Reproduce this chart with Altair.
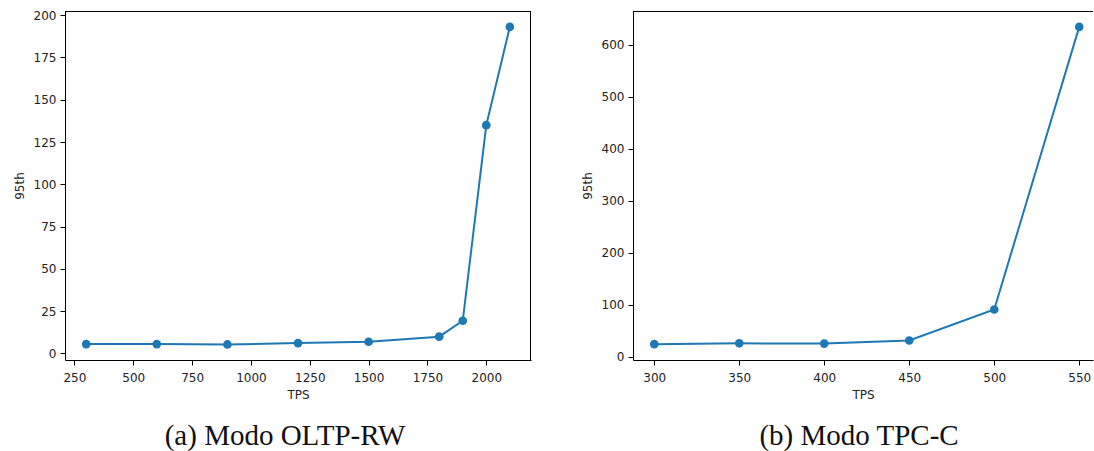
import altair as alt
import pandas as pd

# OLTP-RW workload: throughput (TPS) vs 95th percentile latency
oltp_tps = [300, 600, 900, 1200, 1500, 1800, 1900, 2000, 2100]
oltp_p95 = [5.5, 5.5, 5.3, 6.1, 6.9, 9.9, 19.3, 135.0, 193.1]

# TPC-C workload
tpcc_tps = [300, 350, 400, 450, 500, 550]
tpcc_p95 = [24.4, 26.0, 25.5, 31.4, 91.0, 634.6]

BLUE = "#1f77b4"
TICK_FONT = "DejaVu Sans"
H = 349


def panel(tps, p95, x_dom, y_dom, x_ticks, y_ticks, caption, width, dx, right_spine):
    df = pd.DataFrame({"TPS": tps, "95th": p95})
    x = alt.X(
        "TPS:Q",
        scale=alt.Scale(domain=x_dom, nice=False, zero=False),
        axis=alt.Axis(values=x_ticks, title="TPS", format="d", grid=False),
    )
    y = alt.Y(
        "95th:Q",
        scale=alt.Scale(domain=y_dom, nice=False, zero=False),
        axis=alt.Axis(values=y_ticks, title="95th", format="d", grid=False,
                      labelPadding=4, titlePadding=7),
    )
    base = alt.Chart(df).encode(x=x, y=y)
    line = base.mark_line(color=BLUE, strokeWidth=2)
    pts = base.mark_circle(color=BLUE, size=75, opacity=1)
    # top spine (and right spine where the panel is not cut by the page edge)
    top = alt.Chart(df).mark_rule(color="#000000", strokeWidth=1).encode(
        x=alt.value(0), x2=alt.value(width), y=alt.value(0.5)
    )
    layers = [line, pts, top]
    if right_spine:
        layers.append(
            alt.Chart(df).mark_rule(color="#000000", strokeWidth=1).encode(
                x=alt.value(width - 0.5), y=alt.value(0), y2=alt.value(H)
            )
        )
    return alt.layer(*layers).properties(
        width=width,
        height=H,
        title=alt.TitleParams(
            caption,
            orient="bottom",
            anchor="middle",
            font="Liberation Serif",
            fontSize=29,
            fontWeight="normal",
            color="#111111",
            offset=22,
            dx=dx,
        ),
    )


left = panel(
    oltp_tps, oltp_p95, [210, 2190], [-3.9, 202.5],
    [250, 500, 750, 1000, 1250, 1500, 1750, 2000],
    [0, 25, 50, 75, 100, 125, 150, 175, 200],
    "(a) Modo OLTP-RW", 466, -13, True,
)
right = panel(
    tpcc_tps, tpcc_p95, [287.5, 558.1], [-6.1, 665.1],
    [300, 350, 400, 450, 500, 550],
    [0, 100, 200, 300, 400, 500, 600],
    "(b) Modo TPC-C", 460, -4, False,
)

chart = (
    alt.hconcat(left, right, spacing=49)
    .properties(
        padding={"left": 13, "top": 9, "right": 0, "bottom": 0},
        background="white",
    )
    .configure_view(strokeWidth=0, stroke=None)
    .configure_axis(
        labelFont=TICK_FONT,
        labelFontSize=12,
        labelColor="#222222",
        titleFont=TICK_FONT,
        titleFontSize=12,
        titleFontWeight="normal",
        titleColor="#222222",
        domain=True,
        domainColor="#000000",
        domainWidth=1,
        grid=False,
        ticks=True,
        tickColor="#000000",
        tickSize=5,
    )
    .configure_axisX(labelPadding=7, titlePadding=6)
)

chart.save("out.html", embed_options={"renderer": "svg", "actions": False})
